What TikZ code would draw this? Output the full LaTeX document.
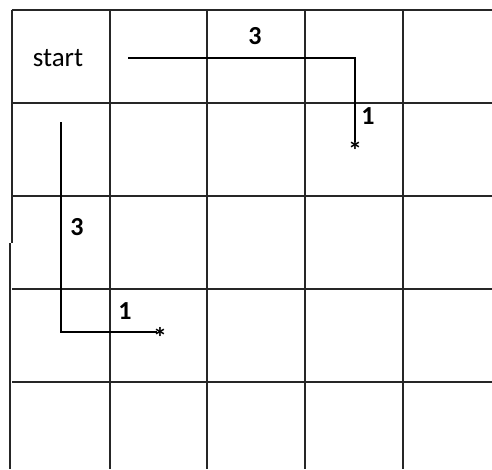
\documentclass[tikz,border=0pt]{standalone}
\usepackage{fontspec}
\setmainfont{Carlito}
\begin{document}
\begin{tikzpicture}[x=1pt,y=-1pt,
  gridline/.style={line width=1.8pt, black!85},
  pathline/.style={line width=1.2pt, black},
  lbl/.style={font=\fontsize{26}{28}\selectfont\bfseries, inner sep=0pt},
  startlbl/.style={font=\fontsize{27}{30}\selectfont, inner sep=0pt},
  star/.style={font=\fontsize{28}{30}\selectfont\bfseries, inner sep=0pt}]
\useasboundingbox (0,0) rectangle (492,469);
% grid
\draw[gridline] (11.5,10) -- (492,10);
\foreach \y in {103,196,289,382} \draw[gridline] (12,\y) -- (492,\y);
\foreach \x in {110,207,305,403} \draw[gridline] (\x,10) -- (\x,469);
\draw[gridline] (12,10) -- (12,243);
\draw[gridline] (10,243) -- (10,469);
% start
\node[startlbl] (start) at (58,58) {start};
% path 1
\coordinate (p1a) at (128,58);
\coordinate (p1b) at (355,58);
\coordinate (p1c) at (355,142);
\draw[pathline] (p1a) -- (p1b) -- (p1c);
\node[star] (s1) at (355,150) {*};
\node[lbl] (n3a) at (255,36) {3};
\node[lbl] (n1a) at (368,116) {1};
% path 2
\coordinate (p2a) at (61,122);
\coordinate (p2b) at (61,332);
\coordinate (p2c) at (157,332);
\draw[pathline] (p2a) -- (p2b) -- (p2c);
\node[star] (s2) at (160,337) {*};
\node[lbl] (n3b) at (77,227) {3};
\node[lbl] (n1b) at (125,311) {1};
\end{tikzpicture}
\end{document}
